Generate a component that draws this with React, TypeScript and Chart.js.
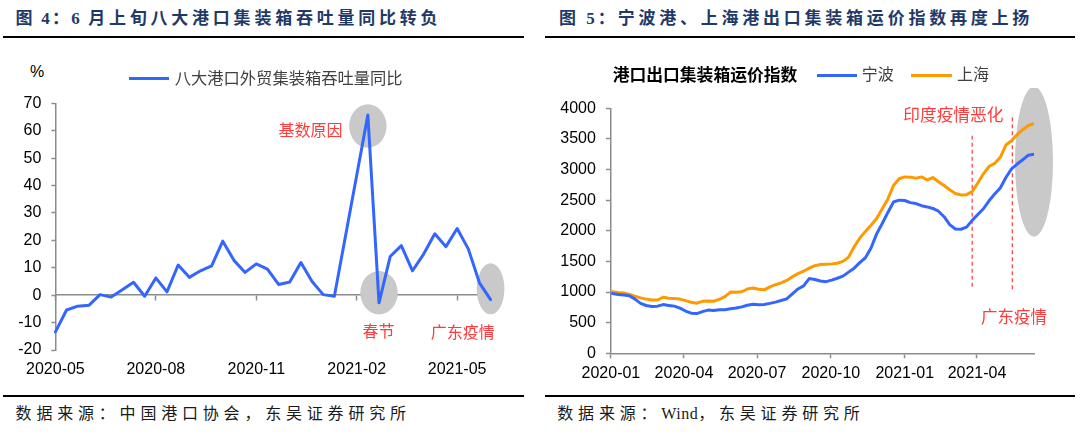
import React, { useEffect, useRef } from "react";
import { Chart, registerables } from "chart.js";
Chart.register(...registerables);

const CJK = '"Noto Sans CJK SC", sans-serif';
const SERIF_CJK = '"Liberation Serif", "Noto Sans CJK SC", serif';
const SANS = '"Liberation Sans", Arial, sans-serif';
const AXIS_GRAY = "#8c8c8c";
const BLUE = "#3366FF";
const ORANGE = "#FF9900";
const RED = "#FF3B3B";
const SHADE = "#C9C9C9";

// ---------- 图4 data (10-day periods) ----------
const leftPeriods = [
  "2020-05上旬", "2020-05中旬", "2020-05下旬", "2020-06上旬", "2020-06中旬", "2020-06下旬",
  "2020-07上旬", "2020-07中旬", "2020-07下旬", "2020-08上旬", "2020-08中旬", "2020-08下旬",
  "2020-09上旬", "2020-09中旬", "2020-09下旬", "2020-10上旬", "2020-10中旬", "2020-10下旬",
  "2020-11上旬", "2020-11中旬", "2020-11下旬", "2020-12上旬", "2020-12中旬", "2020-12下旬",
  "2021-01上旬", "2021-01中旬", "2021-01下旬", "2021-02上旬", "2021-02中旬", "2021-02下旬",
  "2021-03上旬", "2021-03中旬", "2021-03下旬", "2021-04上旬", "2021-04中旬", "2021-04下旬",
  "2021-05上旬", "2021-05中旬", "2021-05下旬", "2021-06上旬",
];
const leftTickMonths = ["2020-05", "2020-08", "2020-11", "2021-02", "2021-05"];
const leftYoY: (number | null)[] = [
  -13.4, -5.4, -4.0, -3.7, 0.2, -0.7, 2.0, 4.7, -0.4, 6.3, 1.2, 11.0,
  6.5, 8.9, 10.7, 19.7, 12.7, 8.3, 11.4, 9.5, 3.9, 4.8, 11.9, 5.0,
  0.2, -0.4, null, null, 65.7, -2.8, 14.1, 18.1, 8.9, 15.0, 22.4, 17.7,
  24.3, 16.9, 4.5, -1.6,
];
const leftYMin = -20;
const leftYMax = 70;
const leftYStep = 10;

// ---------- 图5 data (weekly) ----------
const rightDates = [
  "2020-01-03", "2020-01-10", "2020-01-17", "2020-01-24", "2020-01-31", "2020-02-07", "2020-02-14", "2020-02-21",
  "2020-02-28", "2020-03-06", "2020-03-13", "2020-03-20", "2020-03-27", "2020-04-03", "2020-04-10", "2020-04-17",
  "2020-04-24", "2020-05-01", "2020-05-08", "2020-05-15", "2020-05-22", "2020-05-29", "2020-06-05", "2020-06-12",
  "2020-06-19", "2020-06-26", "2020-07-03", "2020-07-10", "2020-07-17", "2020-07-24", "2020-07-31", "2020-08-07",
  "2020-08-14", "2020-08-21", "2020-08-28", "2020-09-04", "2020-09-11", "2020-09-18", "2020-09-25", "2020-10-02",
  "2020-10-09", "2020-10-16", "2020-10-23", "2020-10-30", "2020-11-06", "2020-11-13", "2020-11-20", "2020-11-27",
  "2020-12-04", "2020-12-11", "2020-12-18", "2020-12-25", "2021-01-01", "2021-01-08", "2021-01-15", "2021-01-22",
  "2021-01-29", "2021-02-05", "2021-02-12", "2021-02-19", "2021-02-26", "2021-03-05", "2021-03-12", "2021-03-19",
  "2021-03-26", "2021-04-02", "2021-04-09", "2021-04-16", "2021-04-23", "2021-04-30", "2021-05-07", "2021-05-14",
  "2021-05-21", "2021-05-28", "2021-06-04", "2021-06-11",
];
const ningboIndex = [
  975, 960, 950, 940, 885, 815, 780, 765, 770, 795, 782, 770, 738, 690, 655, 648,
  680, 705, 700, 712, 710, 728, 740, 758, 785, 800, 792, 798, 815, 835, 862, 888,
  970, 1050, 1100, 1220, 1205, 1180, 1170, 1195, 1225, 1260, 1325, 1390, 1480, 1560,
  1720, 1950, 2120, 2300, 2470, 2500, 2495, 2460, 2445, 2410, 2390, 2365, 2320, 2230,
  2100, 2030, 2025, 2060, 2170, 2265, 2360, 2490, 2600, 2700, 2870, 3010, 3090, 3160,
  3235, 3250,
];
const shanghaiIndex = [
  1005, 992, 985, 962, 932, 905, 885, 872, 870, 915, 900, 893, 885, 860, 832, 818,
  848, 853, 850, 880, 925, 1000, 995, 1005, 1050, 1065, 1045, 1036, 1085, 1120, 1150, 1190,
  1250, 1300, 1340, 1390, 1430, 1450, 1455, 1460, 1470, 1500, 1570, 1740, 1880, 1990,
  2090, 2200, 2360, 2520, 2740, 2850, 2880, 2876, 2860, 2880, 2830, 2870, 2800, 2740,
  2670, 2610, 2585, 2590, 2640, 2780, 2930, 3050, 3100, 3200, 3400, 3470, 3570, 3650,
  3720, 3750,
];
const rightTickDates = ["2020-01-01", "2020-04-01", "2020-07-01", "2020-10-01", "2021-01-01", "2021-04-01"];
const rightTickLabels = ["2020-01", "2020-04", "2020-07", "2020-10", "2021-01", "2021-04"];
const rightYMin = 0;
const rightYMax = 4000;
const rightYStep = 500;

const dayOf = (s: string) => {
  const [y, m, d] = s.split("-").map(Number);
  return (Date.UTC(y, m - 1, d) - Date.UTC(2020, 0, 1)) / 86400000;
};
const rightTickDays = rightTickDates.map(dayOf);

type Ell = { x: number; y: number; rx: number; ry: number; color: string };
type VLine = { x: number; y1: number; y2: number; color: string; width: number; dash: number[] };

const makeShapes = (ellipses: Ell[], vlines: VLine[]) => ({
  id: "shapes",
  beforeDatasetsDraw(chart: any) {
    const { ctx } = chart;
    const xs = chart.scales.x;
    const ys = chart.scales.y;
    for (const e of ellipses) {
      ctx.save();
      ctx.fillStyle = e.color;
      ctx.beginPath();
      ctx.ellipse(xs.getPixelForValue(e.x), ys.getPixelForValue(e.y), e.rx, e.ry, 0, 0, Math.PI * 2);
      ctx.fill();
      ctx.restore();
    }
    for (const l of vlines) {
      const px = xs.getPixelForValue(l.x);
      ctx.save();
      ctx.strokeStyle = l.color;
      ctx.lineWidth = l.width;
      ctx.setLineDash(l.dash);
      ctx.beginPath();
      ctx.moveTo(px, ys.getPixelForValue(l.y1));
      ctx.lineTo(px, ys.getPixelForValue(l.y2));
      ctx.stroke();
      ctx.restore();
    }
  },
});

const isLeftMajor = (i: number) => {
  const p = leftPeriods[i];
  return !!p && p.endsWith("上旬") && leftTickMonths.includes(p.slice(0, 7));
};

const tickFont = { family: SANS, size: 16 };

function makeLeftConfig(): any {
  return {
    type: "line",
    data: {
      labels: leftPeriods,
      datasets: [
        {
          label: "八大港口外贸集装箱吞吐量同比",
          data: leftYoY,
          borderColor: BLUE,
          backgroundColor: BLUE,
          borderWidth: 3,
          borderJoinStyle: "round",
          borderCapStyle: "round",
          pointRadius: 0,
          tension: 0,
          spanGaps: true,
          xAxisID: "x",
          yAxisID: "y",
        },
      ],
    },
    options: {
      responsive: false,
      animation: false,
      devicePixelRatio: 1,
      layout: { padding: { left: 0, right: 49.4, top: 20.3, bottom: 0 } },
      plugins: { legend: { display: false }, tooltip: { enabled: false } },
      scales: {
        x: {
          type: "category",
          position: "bottom",
          offset: false,
          border: { display: false },
          grid: { display: false, drawTicks: false },
          ticks: {
            autoSkip: false,
            maxRotation: 0,
            minRotation: 0,
            padding: 10,
            color: "#000",
            font: tickFont,
            callback: (_v: any, i: number) => (isLeftMajor(i) ? leftPeriods[i].slice(0, 7) : ""),
          },
          afterFit: (s: any) => {
            s.height = 40;
          },
        },
        x0: {
          type: "category",
          axis: "x",
          position: { y: 0 },
          offset: false,
          border: { display: true, color: AXIS_GRAY, width: 1.5 },
          grid: {
            drawOnChartArea: false,
            drawTicks: true,
            tickLength: 5,
            tickWidth: 1.5,
            tickColor: (c: any) => (isLeftMajor(c.index) ? AXIS_GRAY : "rgba(0,0,0,0)"),
          },
          ticks: { display: false, autoSkip: false },
        },
        y: {
          min: leftYMin,
          max: leftYMax,
          border: { display: true, color: AXIS_GRAY, width: 1.5 },
          grid: { drawOnChartArea: false, drawTicks: true, tickLength: 4, tickColor: AXIS_GRAY, tickWidth: 1.5 },
          ticks: { stepSize: leftYStep, padding: 10, color: "#000", font: tickFont, callback: (v: any) => String(v) },
          afterFit: (s: any) => {
            s.width = 55.4;
          },
        },
      },
    },
    plugins: [
      makeShapes(
        [
          { x: 28, y: 61.7, rx: 18.7, ry: 21.7, color: SHADE },
          { x: 29, y: 0.9, rx: 18.7, ry: 21.7, color: SHADE },
          { x: 39, y: 2.3, rx: 13.8, ry: 25.5, color: SHADE },
        ],
        []
      ),
    ],
  };
}

function makeRightConfig(): any {
  const xs = rightDates.map(dayOf);
  const lastDay = xs[xs.length - 1];
  return {
    type: "line",
    data: {
      datasets: [
        {
          label: "宁波",
          data: ningboIndex.map((v, i) => ({ x: xs[i], y: v })),
          borderColor: BLUE,
          backgroundColor: BLUE,
          borderWidth: 3,
          borderJoinStyle: "round",
          borderCapStyle: "round",
          pointRadius: 0,
          tension: 0,
        },
        {
          label: "上海",
          data: shanghaiIndex.map((v, i) => ({ x: xs[i], y: v })),
          borderColor: ORANGE,
          backgroundColor: ORANGE,
          borderWidth: 3,
          borderJoinStyle: "round",
          borderCapStyle: "round",
          pointRadius: 0,
          tension: 0,
        },
      ],
    },
    options: {
      responsive: false,
      animation: false,
      devicePixelRatio: 1,
      layout: { padding: { left: 0, right: 46, top: 20.3, bottom: 0 } },
      plugins: { legend: { display: false }, tooltip: { enabled: false } },
      scales: {
        x: {
          type: "linear",
          min: 0,
          max: lastDay,
          border: { display: true, color: AXIS_GRAY, width: 1.5 },
          grid: { drawOnChartArea: false, drawTicks: true, tickLength: 5, tickColor: AXIS_GRAY, tickWidth: 1.5 },
          afterBuildTicks: (s: any) => {
            s.ticks = rightTickDays.map((v) => ({ value: v }));
          },
          ticks: {
            autoSkip: false,
            maxRotation: 0,
            minRotation: 0,
            padding: 6,
            color: "#000",
            font: tickFont,
            callback: (v: any) => {
              const k = rightTickDays.indexOf(v);
              return k >= 0 ? rightTickLabels[k] : "";
            },
          },
          afterFit: (s: any) => {
            s.height = 41.7;
          },
        },
        y: {
          min: rightYMin,
          max: rightYMax,
          border: { display: true, color: AXIS_GRAY, width: 1.5 },
          grid: { drawOnChartArea: false, drawTicks: true, tickLength: 5, tickColor: AXIS_GRAY, tickWidth: 1.5 },
          ticks: { stepSize: rightYStep, padding: 10, color: "#000", font: tickFont, callback: (v: any) => String(v) },
          afterFit: (s: any) => {
            s.width = 70.9;
          },
        },
      },
    },
    plugins: [
      makeShapes(
        [{ x: lastDay, y: 3128, rx: 19, ry: 75, color: SHADE }],
        [
          { x: dayOf("2021-03-26"), y1: 1087, y2: 3564, color: RED, width: 1.2, dash: [4, 3] },
          { x: dayOf("2021-05-15"), y1: 1045, y2: 3863, color: RED, width: 1.2, dash: [4, 3] },
        ]
      ),
    ],
  };
}

function ChartCanvas(props: { left: number; top: number; width: number; height: number; make: () => any }) {
  const ref = useRef<HTMLCanvasElement>(null);
  useEffect(() => {
    const chart = new Chart(ref.current as HTMLCanvasElement, props.make());
    return () => chart.destroy();
  }, []);
  return (
    <canvas
      ref={ref}
      width={props.width}
      height={props.height}
      style={{ position: "absolute", left: props.left, top: props.top, width: props.width, height: props.height }}
    />
  );
}

function Txt(props: {
  x: number;
  cy: number;
  size: number;
  color?: string;
  weight?: number;
  family?: string;
  spacing?: number;
  children: React.ReactNode;
}) {
  const { x, cy, size, color = "#000", weight = 400, family = CJK, spacing = 0 } = props;
  return (
    <div
      style={{
        position: "absolute",
        left: x,
        top: cy - size * 0.6 - 1,
        fontSize: size,
        lineHeight: `${size * 1.2}px`,
        fontFamily: family,
        fontWeight: weight,
        color,
        letterSpacing: spacing,
        whiteSpace: "nowrap",
      }}
    >
      {props.children}
    </div>
  );
}

const Rule = (p: { x: number; y: number; w: number }) => (
  <div style={{ position: "absolute", left: p.x, top: p.y, width: p.w, height: 2, background: "#000" }} />
);
const Swatch = (p: { x: number; y: number; w: number; color: string }) => (
  <div style={{ position: "absolute", left: p.x, top: p.y - 1.5, width: p.w, height: 3, background: p.color }} />
);

export default function App() {
  const titleColor = "#1F3A68";
  return (
    <div
      style={{
        position: "fixed",
        left: 0,
        top: 0,
        width: 1080,
        height: 435,
        background: "#fff",
        overflow: "hidden",
      }}
    >
      {/* ---------- Left panel ---------- */}
      <Txt x={15.6} cy={20} size={17} weight={700} color={titleColor} family={SERIF_CJK}>
        <span style={{ letterSpacing: 2.2 }}>图 4：6 </span>
        <span style={{ letterSpacing: 3.76 }}>月上旬八大港口集装箱吞吐量同比转负</span>
      </Txt>
      <Rule x={3} y={36} w={521} />
      <ChartCanvas left={0} top={83} width={540} height={307} make={makeLeftConfig} />
      <Txt x={30} cy={72.7} size={16} family={SANS}>
        %
      </Txt>
      <Swatch x={128.7} y={78.3} w={40.8} color={BLUE} />
      <Txt x={174.7} cy={78.3} size={16.3} color="#404040">
        八大港口外贸集装箱吞吐量同比
      </Txt>
      <Txt x={278.5} cy={131} size={16} color={RED}>
        基数原因
      </Txt>
      <Txt x={362.6} cy={331.7} size={16} color={RED}>
        春节
      </Txt>
      <Txt x={430.8} cy={333} size={16} color={RED}>
        广东疫情
      </Txt>
      <Rule x={3} y={395} w={521} />
      <Txt x={15.6} cy={415} size={16} color="#1a1a1a" family={SERIF_CJK} spacing={4.8}>
        数据来源：中国港口协会，东吴证券研究所
      </Txt>

      {/* ---------- Right panel ---------- */}
      <Txt x={559} cy={20} size={17} weight={700} color={titleColor} family={SERIF_CJK}>
        <span style={{ letterSpacing: 3 }}>图 5：</span>
        <span style={{ letterSpacing: 3.76 }}>宁波港、上海港出口集装箱运价指数再度上扬</span>
      </Txt>
      <Rule x={545} y={36} w={530} />
      <ChartCanvas left={540} top={88} width={540} height={307} make={makeRightConfig} />
      <Txt x={612.7} cy={75} size={16.8} weight={700} color="#000">
        港口出口集装箱运价指数
      </Txt>
      <Swatch x={816.8} y={75} w={39.8} color={BLUE} />
      <Txt x={861.8} cy={75} size={16} color="#404040">
        宁波
      </Txt>
      <Swatch x={911} y={75} w={40.7} color={ORANGE} />
      <Txt x={957} cy={75} size={16} color="#404040">
        上海
      </Txt>
      <Txt x={903.3} cy={115} size={16.7} color={RED}>
        印度疫情恶化
      </Txt>
      <Txt x={981} cy={318} size={16.5} color={RED}>
        广东疫情
      </Txt>
      <Rule x={545} y={395} w={530} />
      <Txt x={557.3} cy={415} size={16} color="#1a1a1a" family={SERIF_CJK} spacing={4.8}>
        数据来源：<span style={{ letterSpacing: 0.5 }}>Wind</span>，东吴证券研究所
      </Txt>
    </div>
  );
}
